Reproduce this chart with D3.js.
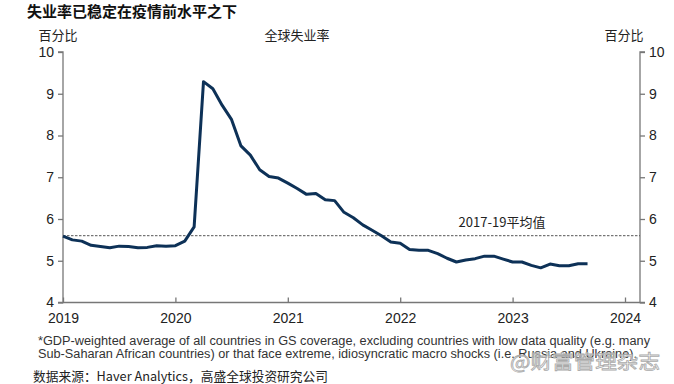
<!DOCTYPE html>
<html><head><meta charset="utf-8">
<script src="https://cdn.jsdelivr.net/npm/d3@7"></script>
<style>
html,body{margin:0;padding:0;background:#fff;}
svg{display:block;}
</style></head>
<body>
<svg id="c" width="674" height="384"></svg>
<script>
const startMonth = "2019-01";
const unemployment = [5.59,5.50,5.47,5.37,5.34,5.31,5.35,5.34,5.31,5.32,5.36,5.35,
  5.36,5.47,5.81,9.29,9.12,8.72,8.38,7.75,7.53,7.18,7.02,6.98,
  6.86,6.73,6.59,6.61,6.46,6.44,6.16,6.03,5.86,5.73,5.60,5.45,
  5.42,5.27,5.25,5.25,5.17,5.06,4.97,5.02,5.05,5.11,5.11,5.04,
  4.97,4.97,4.89,4.83,4.92,4.88,4.88,4.93,4.93];
const avg2017_19 = 5.6;
const yTicks = [4,5,6,7,8,9,10];
const xTicks = [2019,2020,2021,2022,2023,2024];
const title = "失业率已稳定在疫情前水平之下";
const chartLabel = "全球失业率";
const unitLabel = "百分比";
const avgLabel = "2017-19平均值";
const note1 = "*GDP-weighted average of all countries in GS coverage, excluding countries with low data quality (e.g. many";
const note2 = "Sub-Saharan African countries) or that face extreme, idiosyncratic macro shocks (i.e. Russia and Ukraine).";
const source = "数据来源：Haver Analytics，高盛全球投资研究公司";
const watermark = "@财富管理杂志";

const svg = d3.select("#c");
const L = 63, R = 640, T = 52, B = 302.5;
const x = d3.scaleLinear().domain([2019, 2019 + (R - L) / 112.4]).range([L, R]);
const y = d3.scaleLinear().domain([4, 10]).range([B, T]);
const cjk = "'Noto Sans CJK SC','Noto Sans',sans-serif";
const lat = "'Liberation Sans',Arial,sans-serif";
const axCol = "#777";

// title
svg.append("text").attr("x", 27).attr("y", 17).text(title)
  .attr("font-family", cjk).attr("font-weight", "bold").attr("font-size", 15).attr("fill", "#111");

// unit labels
svg.append("text").attr("x", 58).attr("y", 40).attr("text-anchor", "middle").text(unitLabel)
  .attr("font-family", cjk).attr("font-size", 13).attr("fill", "#222");
svg.append("text").attr("x", 624).attr("y", 40).attr("text-anchor", "middle").text(unitLabel)
  .attr("font-family", cjk).attr("font-size", 13).attr("fill", "#222");
svg.append("text").attr("x", 297).attr("y", 40).attr("text-anchor", "middle").text(chartLabel)
  .attr("font-family", cjk).attr("font-size", 13).attr("fill", "#222");

// axes
const leftAxis = d3.axisLeft(y).tickValues(yTicks).tickSize(5).tickPadding(4).tickFormat(d3.format("d"));
const rightAxis = d3.axisRight(y).tickValues(yTicks).tickSize(5).tickPadding(4).tickFormat(d3.format("d"));
const bottomAxis = d3.axisBottom(x).tickValues(xTicks).tickSize(-5).tickPadding(10).tickFormat(d3.format("d"));

function style(g) {
  g.select(".domain").attr("stroke", axCol).attr("stroke-width", 1.3);
  g.selectAll(".tick line").attr("stroke", axCol).attr("stroke-width", 1.3);
  g.selectAll(".tick text").attr("font-family", lat).attr("font-size", 14).attr("fill", "#222");
}
svg.append("g").attr("transform", `translate(${L},0)`).call(leftAxis).call(style)
  .select(".domain").attr("d", `M-5,${T}H0V${B}H-5`);
svg.append("g").attr("transform", `translate(${R},0)`).call(rightAxis).call(style)
  .select(".domain").attr("d", `M5,${T}H0V${B}H5`);
const gx = svg.append("g").attr("transform", `translate(0,${B})`).call(bottomAxis).call(style);
gx.select(".domain").attr("d", `M${L},0H${R}`);
gx.selectAll(".tick text").attr("dy", "0.71em").attr("y", 11);

// average dashed line
svg.append("line").attr("x1", L).attr("x2", R).attr("y1", y(avg2017_19)).attr("y2", y(avg2017_19))
  .attr("stroke", "#555").attr("stroke-width", 1).attr("stroke-dasharray", "2.5,1.5");
svg.append("text").attr("x", 502).attr("y", 227).attr("text-anchor", "middle").text(avgLabel)
  .attr("font-family", cjk).attr("font-size", 13).attr("fill", "#222");

// line
const t0 = d3.timeParse("%Y-%m")(startMonth);
const data = unemployment.map((v, i) => {
  const d = d3.timeMonth.offset(t0, i);
  return { t: d.getFullYear() + d.getMonth() / 12, v };
});
const line = d3.line().x(d => x(d.t)).y(d => y(d.v));
svg.append("path").datum(data).attr("d", line).attr("fill", "none")
  .attr("stroke", "#0d3157").attr("stroke-width", 3).attr("stroke-linejoin", "round");

// notes
svg.append("text").attr("x", 38).attr("y", 344.5).text(note1)
  .attr("font-family", lat).attr("font-size", 12.5).attr("fill", "#333")
  .attr("textLength", 612).attr("lengthAdjust", "spacingAndGlyphs");
svg.append("text").attr("x", 38).attr("y", 357.5).text(note2)
  .attr("font-family", lat).attr("font-size", 12.5).attr("fill", "#333")
  .attr("textLength", 599).attr("lengthAdjust", "spacingAndGlyphs");
svg.append("text").attr("x", 33).attr("y", 381).text(source)
  .attr("font-family", cjk).attr("font-size", 13).attr("fill", "#222")
  .attr("textLength", 295).attr("lengthAdjust", "spacingAndGlyphs");

// watermark
svg.append("text").attr("x", 510).attr("y", 369).text(watermark)
  .attr("font-family", cjk).attr("font-size", 19).attr("fill", "#fff").attr("fill-opacity", 0.6)
  .attr("stroke", "#aaa").attr("stroke-width", 0.8)
  .attr("textLength", 150).attr("lengthAdjust", "spacingAndGlyphs");
</script>
</body></html>
